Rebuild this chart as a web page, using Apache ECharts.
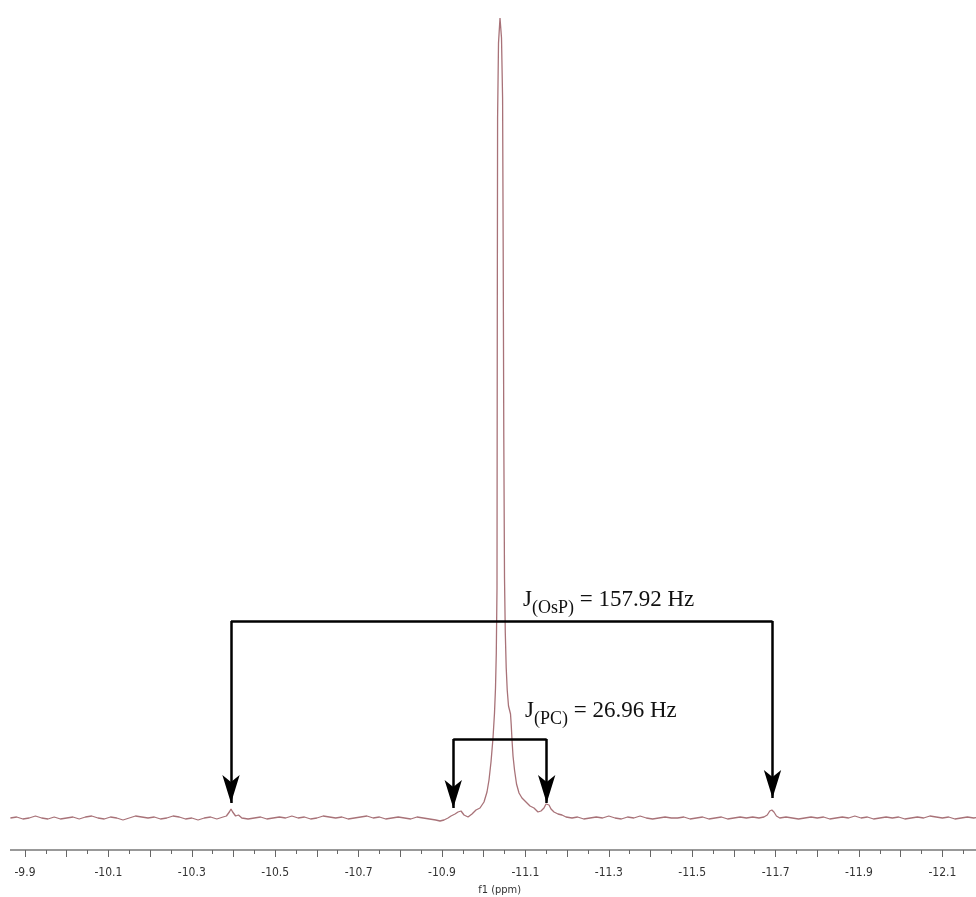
<!DOCTYPE html>
<html>
<head>
<meta charset="utf-8">
<title>31P NMR</title>
<script src="https://cdn.jsdelivr.net/npm/echarts@6/dist/echarts.min.js"></script>
<style>
  html, body { margin: 0; padding: 0; background: #fff; }
  #main { width: 976px; height: 897px; }
</style>
</head>
<body>
<div id="main"></div>
<script>
// spectrum segments, [ppm, intensity]
var noiseLeft = [
    [-9.865, 0], [-9.88, 1], [-9.895, -1], [-9.91, 0], [-9.925, 2], [-9.94, 0], [-9.955, -1],
    [-9.97, 1], [-9.985, -1], [-10.0, 0], [-10.015, 1], [-10.03, -1], [-10.045, 1], [-10.06, 2],
    [-10.075, 0], [-10.09, -1], [-10.105, 1], [-10.12, 0], [-10.135, -2], [-10.15, 0], [-10.165, 2],
    [-10.18, 1], [-10.195, 0], [-10.21, 1], [-10.225, -1], [-10.24, 0], [-10.255, 2], [-10.27, 1],
    [-10.285, -1], [-10.3, 0], [-10.315, -2], [-10.33, 0], [-10.345, 1], [-10.36, -1], [-10.375, 1]
];
var satOsPLeft = [
    [-10.383, 2], [-10.39, 6], [-10.394, 9], [-10.398, 6], [-10.405, 2], [-10.412, 3], [-10.42, 0]
];
var noiseMid = [
    [-10.435, -1], [-10.45, 0], [-10.465, 1], [-10.48, -1], [-10.495, 0], [-10.51, 1], [-10.525, 0],
    [-10.54, 2], [-10.555, 0], [-10.57, 1], [-10.585, -1], [-10.6, 0], [-10.615, 2], [-10.63, 1],
    [-10.645, 0], [-10.66, 1], [-10.675, -1], [-10.69, 0], [-10.705, 1], [-10.72, 2], [-10.735, 0],
    [-10.75, 1], [-10.765, -1], [-10.78, 0], [-10.795, 1], [-10.81, 0], [-10.825, -1], [-10.84, 1],
    [-10.855, 0], [-10.87, -1], [-10.885, -2]
];
var mainPeak = [
    [-10.8952, -3], [-10.9048, -2], [-10.9144, 0], [-10.9216, 2], [-10.9264, 3], [-10.9312, 4],
    [-10.9384, 6], [-10.9456, 7], [-10.9528, 3], [-10.9624, 1], [-10.9719, 4], [-10.9815, 8],
    [-10.9911, 10], [-11.0007, 16], [-11.0079, 26], [-11.0127, 38], [-11.0175, 56], [-11.0223, 80],
    [-11.0259, 105], [-11.0283, 130], [-11.0302, 165], [-11.0319, 230], [-11.0326, 500],
    [-11.0333, 700], [-11.0355, 775], [-11.0391, 800], [-11.0427, 780], [-11.0453, 720],
    [-11.0468, 560], [-11.0482, 380], [-11.0499, 240], [-11.0518, 185], [-11.0540, 150],
    [-11.0564, 128], [-11.0595, 112], [-11.0619, 108], [-11.0643, 104], [-11.0659, 94],
    [-11.0679, 78], [-11.0703, 62], [-11.0739, 48], [-11.0787, 34], [-11.0847, 25], [-11.0918, 20],
    [-11.1014, 16], [-11.1110, 12], [-11.1206, 10], [-11.1302, 6], [-11.1374, 7], [-11.1446, 10],
    [-11.1494, 14], [-11.1530, 15], [-11.1566, 13], [-11.1614, 9], [-11.1686, 6], [-11.1782, 4],
    [-11.1878, 3], [-11.1974, 1], [-11.2118, 0]
];
var noiseRight = [
    [-11.225, 1], [-11.24, -1], [-11.255, 0], [-11.27, 1], [-11.285, 0], [-11.3, 2], [-11.315, 0],
    [-11.33, -1], [-11.345, 1], [-11.36, 0], [-11.375, 2], [-11.39, 0], [-11.405, -1], [-11.42, 0],
    [-11.435, 1], [-11.45, 0], [-11.465, 0], [-11.48, 1], [-11.495, -1], [-11.51, 0], [-11.525, 1],
    [-11.54, -1], [-11.555, 0], [-11.57, 1], [-11.585, -1], [-11.6, 0], [-11.615, 1], [-11.63, 0],
    [-11.645, 1], [-11.66, 0], [-11.672, 1]
];
var satOsPRight = [
    [-11.68, 3], [-11.686, 7], [-11.691, 8], [-11.696, 6], [-11.702, 2], [-11.71, 0]
];
var noiseEnd = [
    [-11.725, 1], [-11.74, 0], [-11.755, -1], [-11.77, 0], [-11.785, 1], [-11.8, 0], [-11.815, 1],
    [-11.83, -1], [-11.845, 0], [-11.86, 1], [-11.875, 0], [-11.89, 2], [-11.905, 0], [-11.92, 1],
    [-11.935, -1], [-11.95, 0], [-11.965, 1], [-11.98, 0], [-11.995, 1], [-12.01, -1], [-12.025, 0],
    [-12.04, 1], [-12.055, 0], [-12.07, 2], [-12.085, 1], [-12.1, 0], [-12.115, 1], [-12.13, -1],
    [-12.145, 0], [-12.16, 1], [-12.175, 0], [-12.19, 1]
];

// coupling brackets: [left ppm, right ppm, bracket height, left tip, right tip]
var jOsP = [-10.394, -11.6926, 197, 15, 20];
var jPC = [-10.927, -11.151, 79, 10, 15];
var jOsPText = 'J(OsP) = 157.92 Hz';
var jPCText = 'J(PC) = 26.96 Hz';

var spectrum = [].concat(noiseLeft, satOsPLeft, noiseMid, mainPeak, noiseRight, satOsPRight, noiseEnd);

var myChart = echarts.init(document.getElementById('main'));

function bracket(j) {
    var lineStyle = { color: '#000', width: 2.5, type: 'solid' };
    return [
        [{ coord: [j[0], j[2]], symbol: 'none', lineStyle: lineStyle },
         { coord: [j[1], j[2]], symbol: 'none' }],
        [{ coord: [j[0], j[2]], symbol: 'none', lineStyle: lineStyle },
         { coord: [j[0], j[3]], symbol: 'arrow' }],
        [{ coord: [j[1], j[2]], symbol: 'none', lineStyle: lineStyle },
         { coord: [j[1], j[4]], symbol: 'arrow' }]
    ];
}

var textRich = {
    t: { fontFamily: 'Liberation Serif', fontSize: 23, color: '#111', lineHeight: 24 },
    sub: { fontFamily: 'Liberation Serif', fontSize: 18, color: '#111', lineHeight: 20, padding: [16, 0, 0, 0] }
};
function jLabel(text, ppm, y) {
    var parts = text.match(/^J(\([^)]*\))(.*)$/);
    return {
        coord: [ppm, y],
        symbol: 'circle',
        symbolSize: 0,
        label: {
            show: true,
            position: 'right',
            distance: 3,
            formatter: '{t|J}{sub|' + parts[1] + '}{t|' + parts[2] + '}',
            rich: textRich
        }
    };
}

var option = {
    animation: false,
    grid: {
        left: -16.7, right: -8.1, top: 18, bottom: 47,
        containLabel: false,
        outerBoundsMode: 'none'
    },
    xAxis: {
        type: 'value',
        inverse: true,
        min: -12.2,
        max: -9.8,
        interval: 0.1,
        name: 'f1 (ppm)',
        nameLocation: 'middle',
        nameGap: 35,
        nameTextStyle: {
            fontFamily: 'DejaVu Sans Condensed', fontSize: 11, color: '#333',
            padding: [0, 0, 0, 32]
        },
        axisLine: { onZero: false, lineStyle: { color: '#777', width: 1.5 } },
        axisTick: { show: true, length: 7, lineStyle: { color: '#666' } },
        minorTick: { show: true, splitNumber: 2, length: 4, lineStyle: { color: '#666' } },
        splitLine: { show: false },
        axisLabel: {
            margin: 17,
            fontFamily: 'DejaVu Sans Condensed',
            fontSize: 12,
            color: '#333',
            formatter: function (v) {
                return Math.round(Math.abs(v) * 10) % 2 === 1 ? v.toFixed(1) : '';
            }
        }
    },
    yAxis: {
        type: 'value',
        min: -32,
        max: 800,
        show: false
    },
    graphic: [
        { type: 'rect', left: 0, top: 844, z: 100, shape: { width: 10, height: 16 }, style: { fill: '#fff' } }
    ],
    series: [
        {
            type: 'line',
            data: spectrum,
            symbol: 'none',
            lineStyle: { color: '#a87278', width: 1.3 },
            markLine: {
                silent: true,
                symbolSize: [13, 28],
                label: { show: false },
                data: bracket(jOsP).concat(bracket(jPC))
            },
            markPoint: {
                silent: true,
                data: [
                    jLabel(jOsPText, -11.087, 218),
                    jLabel(jPCText, -11.092, 107)
                ]
            }
        }
    ]
};

myChart.setOption(option);
</script>
</body>
</html>
